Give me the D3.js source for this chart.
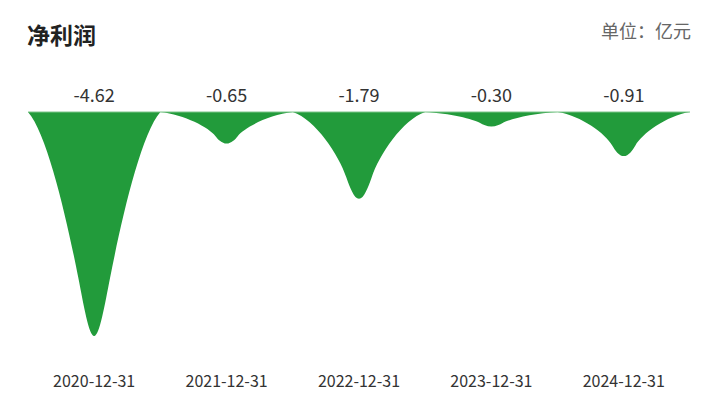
<!DOCTYPE html>
<meta charset="utf-8">
<style>
  body { margin: 0; background: #fff; }
  text { font-family: "Noto Sans CJK SC", "Microsoft YaHei", sans-serif; }
</style>
<body>
<div id="chart"></div>
<script src="https://d3js.org/d3.v7.min.js"></script>
<script>

// Data
var categories = ["2020-12-31", "2021-12-31", "2022-12-31", "2023-12-31", "2024-12-31"];
var values = [-4.62, -0.65, -1.79, -0.30, -0.91];
var title = "净利润";
var unit = "单位：亿元";

var width = 722, height = 396;
var baseY = 112;

var x = d3.scaleBand().domain(categories).range([28, 690]).padding(0);
var y = d3.scaleLinear().domain([0, -4.62]).range([baseY, 336]);

var svg = d3.select("#chart").append("svg")
    .attr("width", width)
    .attr("height", height);

svg.append("text")
    .attr("x", 27).attr("y", 44)
    .style("font-size", "23px")
    .style("font-weight", "bold")
    .style("fill", "#222")
    .text(title);

svg.append("text")
    .attr("x", 691).attr("y", 38)
    .attr("text-anchor", "end")
    .style("font-size", "18px")
    .style("fill", "#666")
    .text(unit);

// spike template, [u, t] pairs: u = fraction of half width from band edge,
// t = fraction of depth. Shallow spikes are a bit slimmer than deep ones.
var deepShape  = [[0.3, 0.1], [0.6, 0.5], [0.76, 0.74], [0.84, 0.86], [0.92, 1]];
var slimShape  = [[0.36, 0.08], [0.74, 0.5], [0.83, 0.76], [0.87, 0.87], [0.93, 1]];

function spike(d, i) {
  var l = x(categories[i]), w = x.bandwidth(), h = w / 2, cx = l + h;
  var y0 = y(0), y1 = y(d);
  var b = Math.max(0, Math.min(1, (y1 - y0 - 30) / 190));
  var c = deepShape.map(function(p, k) {
    return [slimShape[k][0] + (p[0] - slimShape[k][0]) * b,
            slimShape[k][1] + (p[1] - slimShape[k][1]) * b];
  });
  var L = function(u) { return l + u * h; };
  var R = function(u) { return l + w - u * h; };
  var Y = function(t) { return y0 + t * (y1 - y0); };
  var p = d3.path();
  p.moveTo(L(0), Y(0));
  p.bezierCurveTo(L(c[0][0]), Y(c[0][1]), L(c[1][0]), Y(c[1][1]), L(c[2][0]), Y(c[2][1]));
  p.bezierCurveTo(L(c[3][0]), Y(c[3][1]), L(c[4][0]), Y(c[4][1]), cx, Y(1));
  p.bezierCurveTo(R(c[4][0]), Y(c[4][1]), R(c[3][0]), Y(c[3][1]), R(c[2][0]), Y(c[2][1]));
  p.bezierCurveTo(R(c[1][0]), Y(c[1][1]), R(c[0][0]), Y(c[0][1]), R(0), Y(0));
  p.closePath();
  return p.toString();
}

svg.selectAll(".spike")
    .data(values)
    .enter().append("path")
    .attr("class", "spike")
    .attr("d", spike)
    .style("fill", "#229b3b");

svg.append("line")
    .attr("x1", 28).attr("x2", 690)
    .attr("y1", y(0)).attr("y2", y(0))
    .style("stroke", "#7cc58a")
    .style("stroke-width", 1);

svg.selectAll(".val")
    .data(values)
    .enter().append("text")
    .attr("class", "val")
    .attr("x", function(d, i) { return x(categories[i]) + x.bandwidth() / 2; })
    .attr("y", 102)
    .attr("text-anchor", "middle")
    .style("font-size", "18px")
    .style("fill", "#333")
    .text(function(d) { return d.toFixed(2); });

svg.selectAll(".cat")
    .data(categories)
    .enter().append("text")
    .attr("class", "cat")
    .attr("x", function(d) { return x(d) + x.bandwidth() / 2; })
    .attr("y", 387)
    .attr("text-anchor", "middle")
    .style("font-size", "16px")
    .style("fill", "#333")
    .text(function(d) { return d; });

</script>
</body>
